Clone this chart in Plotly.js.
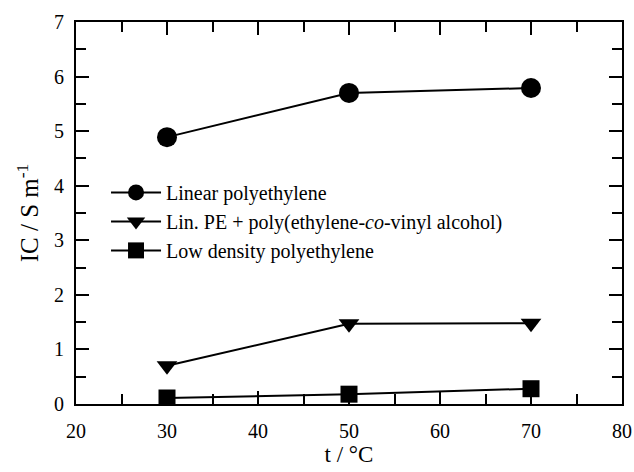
<!DOCTYPE html>
<html>
<head>
<meta charset="utf-8">
<script src="https://cdn.plot.ly/plotly-3.0.1.min.js"></script>
<style>html,body{margin:0;padding:0;background:#fff;}#chart{width:634px;height:472px;}</style>
</head>
<body>
<div id="chart"></div>
<script>
const temperatures = [30, 50, 70];
const linearPE = [4.89, 5.70, 5.79];
const linPEEVOH = [0.70, 1.47, 1.48];
const lowDensityPE = [0.11, 0.18, 0.28];
const seriesNames = [
  'Linear polyethylene',
  'Lin. PE + poly(ethylene-<i>co</i>-vinyl alcohol)',
  'Low density polyethylene'
];

const FAMILY = 'Liberation Serif, Times New Roman, serif';
function f(size) { return {family: FAMILY, size: size, color: '#000'}; }

const traces = [
  {x: temperatures, y: linearPE, name: seriesNames[0], mode: 'lines+markers', type: 'scatter',
   line: {color: '#000', width: 2}, marker: {symbol: 'circle', size: 20, color: '#000'}},
  {x: temperatures, y: linPEEVOH, name: seriesNames[1], mode: 'lines+markers', type: 'scatter',
   line: {color: '#000', width: 2}, marker: {symbol: 'triangle-down', size: 18, color: '#000'}},
  {x: temperatures, y: lowDensityPE, name: seriesNames[2], mode: 'lines+markers', type: 'scatter',
   line: {color: '#000', width: 2}, marker: {symbol: 'square', size: 17, color: '#000'}}
];

function axisCommon() {
  return {
    showline: true, linewidth: 2, linecolor: '#000', mirror: 'ticks',
    ticks: 'inside', ticklen: 13, tickwidth: 2, tickcolor: '#000',
    showgrid: false, zeroline: false,
    tickfont: f(20)
  };
}

const layout = {
  width: 634, height: 472,
  margin: {l: 76, r: 12, t: 22, b: 68},
  paper_bgcolor: '#fff', plot_bgcolor: '#fff',
  font: f(20),
  showlegend: true,
  legend: {x: 0.055, y: 0.605, xanchor: 'left', yanchor: 'top', itemwidth: 50,
    font: f(20), bgcolor: 'rgba(0,0,0,0)', tracegroupgap: 0},
  xaxis: Object.assign(axisCommon(), {
    range: [20, 80], dtick: 10, tick0: 20,
    minor: {ticks: 'inside', ticklen: 10, tickwidth: 2, tickcolor: '#000', dtick: 5, showgrid: false},
    ticklabelstandoff: 8,
    title: {text: 't / °C', font: f(23), standoff: 4}
  }),
  yaxis: Object.assign(axisCommon(), {
    range: [0, 7], dtick: 1, tick0: 0,
    minor: {ticks: 'inside', ticklen: 10, tickwidth: 2, tickcolor: '#000', dtick: 0.5, showgrid: false},
    ticklabelstandoff: 6,
    title: {text: 'IC / S m<sup>-1</sup>', font: f(25), standoff: 8}
  })
};

Plotly.newPlot('chart', traces, layout, {displayModeBar: false, staticPlot: true});
</script>
</body>
</html>
